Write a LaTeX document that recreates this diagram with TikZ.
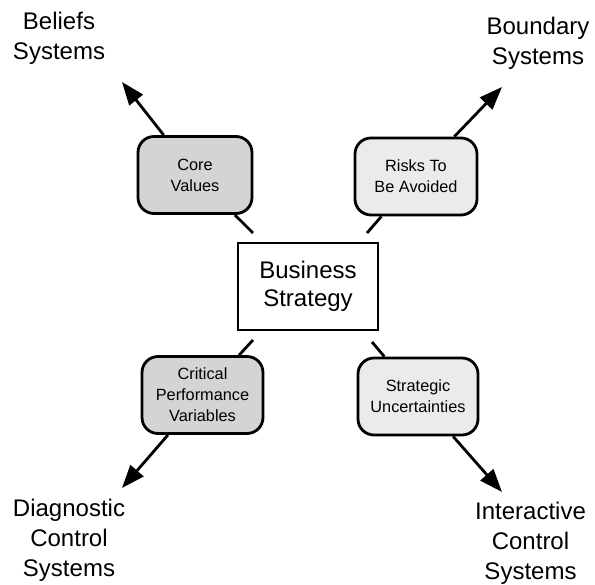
\documentclass[tikz,border=0pt]{standalone}
\usepackage{fontspec}
\setmainfont{Liberation Sans}
\usetikzlibrary{arrows.meta}
\begin{document}
\begin{tikzpicture}[x=1pt,y=-1pt,
  lever/.style={draw=black, line width=2.8pt, rounded corners=16pt,
    minimum width=118pt, minimum height=77pt, align=center, inner sep=0pt,
    font=\fontsize{16.3}{21}\selectfont},
  darklever/.style={lever, fill=black!17},
  lightlever/.style={lever, fill=black!8},
  core/.style={draw=black, line width=2.6pt, minimum width=140pt, minimum height=87pt,
    align=center, inner sep=0pt, font=\fontsize{24}{28}\selectfont},
  system/.style={align=center, inner sep=0pt, anchor=base,
    font=\fontsize{24}{30}\selectfont},
  link/.style={line width=2.8pt},
  outward/.style={link, -{Triangle[length=23pt,width=17pt]}}
]
\useasboundingbox (0,0) rectangle (595,585);

% centre
\node[core] (strategy) at (308,286.5) {Business\\Strategy};

% the four levers
\node[darklever, minimum width=114pt] (values) at (195,175) {Core\\Values};
\node[lightlever, minimum width=122pt] (risks) at (416,176.5) {Risks To\\Be Avoided};
\node[darklever, minimum width=121pt] (cpv) at (202.5,395) {Critical\\Performance\\Variables};
\node[lightlever, minimum width=120pt] (uncert) at (418,396.5) {Strategic\\Uncertainties};

% the four control systems (base = baseline of the last line)
\node[system] (beliefs) at (59,60) {Beliefs\\Systems};
\node[system] (boundary) at (538,65) {Boundary\\Systems};
\node[system] (diagnostic) at (69,576) {Diagnostic\\Control\\Systems};
\node[system] (interactive) at (530.5,579) {Interactive\\Control\\Systems};

% inner ends of the short links near the centre box
\coordinate (valuesIn) at (253,233);
\coordinate (risksIn) at (367,233);
\coordinate (cpvIn) at (253,340);
\coordinate (uncertIn) at (372,342);

% arrow tips pointing to the systems
\coordinate (valuesOut) at (122,82);
\coordinate (risksOut) at (502,87);
\coordinate (cpvOut) at (122,488);
\coordinate (uncertOut) at (502,492);

\draw[link] (valuesIn) -- (values);
\draw[link] (risksIn) -- (risks);
\draw[link] (cpvIn) -- (cpv);
\draw[link] (uncertIn) -- (uncert);

\draw[outward] (values) -- (valuesOut);
\draw[outward] (risks) -- (risksOut);
\draw[outward] (cpv) -- (cpvOut);
\draw[outward] (uncert) -- (uncertOut);
\end{tikzpicture}
\end{document}
